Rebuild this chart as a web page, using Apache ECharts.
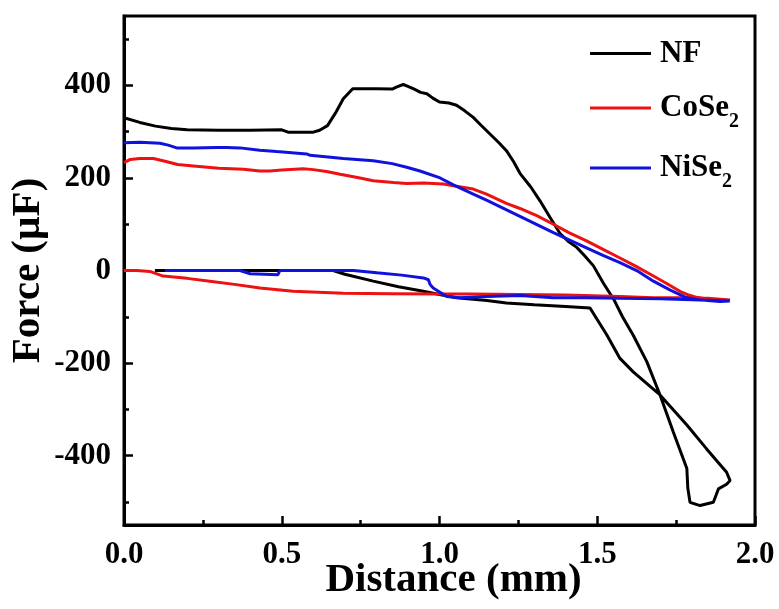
<!DOCTYPE html>
<html>
<head>
<meta charset="utf-8">
<script src="https://cdn.jsdelivr.net/npm/echarts@6/dist/echarts.min.js"></script>
<style>
html,body{margin:0;padding:0;background:#fff;}
#chart{width:779px;height:609px;}
</style>
</head>
<body>
<div id="chart"></div>
<script>
// ---- data (x = distance in mm, y = force in µF), points in drawing order ----
const seriesNames = ['NF', 'CoSe2', 'NiSe2'];
const yLabelValues = [-400, -200, 0, 200, 400];
const yMinorValues = [-500, -300, -100, 100, 300, 500];

const nfData = [
  [0.00, 330], [0.05, 320], [0.10, 312], [0.15, 307], [0.20, 304], [0.30, 303], [0.40, 303],
  [0.50, 304], [0.52, 299], [0.60, 299], [0.62, 303], [0.645, 313], [0.67, 340], [0.695, 371],
  [0.725, 393], [0.80, 393], [0.85, 392], [0.865, 397], [0.885, 402], [0.90, 398], [0.92, 392],
  [0.94, 385], [0.96, 382], [0.98, 372], [1.00, 364], [1.03, 362], [1.054, 357], [1.08, 345],
  [1.107, 331], [1.13, 315], [1.16, 295], [1.19, 275], [1.212, 259], [1.235, 235], [1.255, 210],
  [1.29, 180], [1.319, 150], [1.35, 115], [1.382, 80], [1.41, 62], [1.435, 50], [1.46, 32],
  [1.488, 10], [1.52, -28], [1.552, -62], [1.58, -100], [1.614, -140], [1.657, -197],
  [1.699, -269], [1.741, -349], [1.784, -428], [1.787, -470], [1.794, -501], [1.826, -508],
  [1.868, -501], [1.884, -472], [1.91, -462], [1.921, -454], [1.91, -436], [1.846, -385],
  [1.784, -334], [1.699, -269], [1.614, -219], [1.572, -190], [1.53, -139], [1.477, -81],
  [1.40, -78], [1.30, -74], [1.212, -70], [1.15, -65], [1.054, -59], [1.00, -52], [0.949, -45],
  [0.87, -35], [0.79, -23], [0.70, -8], [0.663, 0], [0.50, 0], [0.30, 0], [0.098, 0]
];

const coseData = [
  [0.00, 233], [0.02, 240], [0.05, 242], [0.093, 242], [0.13, 236], [0.17, 229], [0.22, 226],
  [0.30, 221], [0.379, 219], [0.43, 215], [0.463, 215], [0.50, 217], [0.568, 220], [0.60, 218],
  [0.642, 214], [0.685, 208], [0.748, 200], [0.79, 194], [0.854, 190], [0.896, 188], [0.95, 189],
  [1.012, 187], [1.044, 183], [1.107, 176], [1.149, 165], [1.212, 145], [1.255, 134], [1.31, 118],
  [1.361, 100], [1.41, 82], [1.466, 64], [1.52, 45], [1.572, 27], [1.62, 10], [1.678, -12],
  [1.72, -28], [1.762, -45], [1.79, -53], [1.815, -58], [1.86, -62], [1.921, -64],
  [1.85, -60], [1.78, -59], [1.678, -59], [1.572, -56], [1.40, -53], [1.255, -52], [1.10, -51],
  [1.012, -51], [0.85, -50], [0.695, -49], [0.536, -45], [0.431, -38], [0.35, -30], [0.272, -23],
  [0.20, -17], [0.124, -12], [0.082, -2], [0.04, 0], [0.00, 0]
];

const niseData = [
  [0.00, 276], [0.05, 277], [0.114, 275], [0.14, 271], [0.167, 265], [0.22, 265], [0.294, 266],
  [0.325, 266], [0.368, 265], [0.43, 260], [0.484, 257], [0.579, 252], [0.59, 249], [0.695, 242],
  [0.79, 237], [0.85, 231], [0.896, 223], [0.938, 215], [1.002, 200], [1.044, 185], [1.107, 165],
  [1.149, 152], [1.255, 117], [1.361, 82], [1.466, 49], [1.52, 32], [1.572, 17], [1.63, -2],
  [1.678, -23], [1.73, -42], [1.784, -59], [1.83, -64], [1.889, -67], [1.92, -66],
  [1.80, -63], [1.70, -61], [1.572, -60], [1.461, -59], [1.361, -59], [1.255, -54], [1.149, -56],
  [1.065, -59], [1.023, -56], [0.98, -38], [0.97, -30], [0.965, -20], [0.949, -16], [0.88, -10],
  [0.801, -5], [0.727, 0], [0.60, 0], [0.494, 0], [0.488, -9], [0.40, -7], [0.368, 0],
  [0.25, 0], [0.13, 0]
];

const colors = ['#000000', '#ee1111', '#1111dd'];
const FONT = '"Liberation Serif", "Times New Roman", serif';

const chart = echarts.init(document.getElementById('chart'), null, {renderer: 'canvas'});

const legendRich = {
  b: {fontSize: 31, fontWeight: 'bold', fontFamily: FONT, color: '#000', lineHeight: 31, verticalAlign: 'middle'},
  s: {fontSize: 20, fontWeight: 'bold', fontFamily: FONT, color: '#000', lineHeight: 20, padding: [28, 0, 0, 0], verticalAlign: 'middle'}
};
function legendFmt(name) {
  const m = name.match(/^(.*?)(\d+)$/);
  return m ? '{b|' + m[1] + '}{s|' + m[2] + '}' : '{b|' + name + '}';
}
function mkLegend(name, top) {
  return {
    data: [name], left: 590, top: top, padding: 0, orient: 'vertical',
    icon: 'rect', itemWidth: 61, itemHeight: 3, selectedMode: false,
    formatter: legendFmt,
    textStyle: {padding: [0, 0, 0, 4], rich: legendRich}
  };
}

const option = {
  animation: false,
  backgroundColor: '#fff',
  color: colors,
  grid: {left: 124, right: 24, top: 16, bottom: 84, containLabel: false, outerBoundsMode: 'none',
    show: true, borderColor: '#000', borderWidth: 3, backgroundColor: 'transparent'},
  legend: [mkLegend(seriesNames[0], 38), mkLegend(seriesNames[1], 84), mkLegend(seriesNames[2], 144)],
  xAxis: {
    type: 'value', min: 0, max: 2, interval: 0.5,
    name: 'Distance (mm)', nameLocation: 'middle', nameGap: 35, nameMoveOverlap: false,
    nameTextStyle: {fontSize: 41, fontWeight: 'bold', fontFamily: FONT, color: '#000', padding: [0, 0, 0, 28]},
    axisLine: {show: true, onZero: false, lineStyle: {color: '#000', width: 3}},
    axisTick: {show: true, inside: true, length: 9, lineStyle: {color: '#000', width: 2.5}},
    minorTick: {show: true, splitNumber: 2, length: 5, lineStyle: {color: '#000', width: 2.5}},
    axisLabel: {margin: 14, fontSize: 31, fontWeight: 'bold', fontFamily: FONT, color: '#000',
      formatter: v => v.toFixed(1)},
    splitLine: {show: false}, minorSplitLine: {show: false}
  },
  yAxis: [{
    type: 'value', min: -550, max: 550, position: 'left',
    name: 'Force (µF)', nameLocation: 'middle', nameGap: 75, nameRotate: 90, nameMoveOverlap: false,
    nameTextStyle: {fontSize: 41, fontWeight: 'bold', fontFamily: FONT, color: '#000'},
    axisLine: {show: true, onZero: false, lineStyle: {color: '#000', width: 3}},
    axisTick: {show: true, inside: true, length: 9, customValues: yLabelValues, lineStyle: {color: '#000', width: 2.5}},
    axisLabel: {margin: 13, fontSize: 31, fontWeight: 'bold', fontFamily: FONT, color: '#000', customValues: yLabelValues},
    splitLine: {show: false}
  }, {
    type: 'value', min: -550, max: 550, position: 'left', offset: 0,
    axisLine: {show: false, onZero: false},
    axisTick: {show: true, inside: true, length: 5, customValues: yMinorValues, lineStyle: {color: '#000', width: 2.5}},
    axisLabel: {show: false},
    splitLine: {show: false}
  }],
  series: [
    {name: seriesNames[0], type: 'line', data: nfData, showSymbol: false, symbol: 'none', lineStyle: {width: 3, color: colors[0]}, itemStyle: {color: colors[0]}},
    {name: seriesNames[1], type: 'line', data: coseData, showSymbol: false, symbol: 'none', lineStyle: {width: 3, color: colors[1]}, itemStyle: {color: colors[1]}},
    {name: seriesNames[2], type: 'line', data: niseData, showSymbol: false, symbol: 'none', lineStyle: {width: 3, color: colors[2]}, itemStyle: {color: colors[2]}}
  ]
};
chart.setOption(option);
</script>
</body>
</html>
